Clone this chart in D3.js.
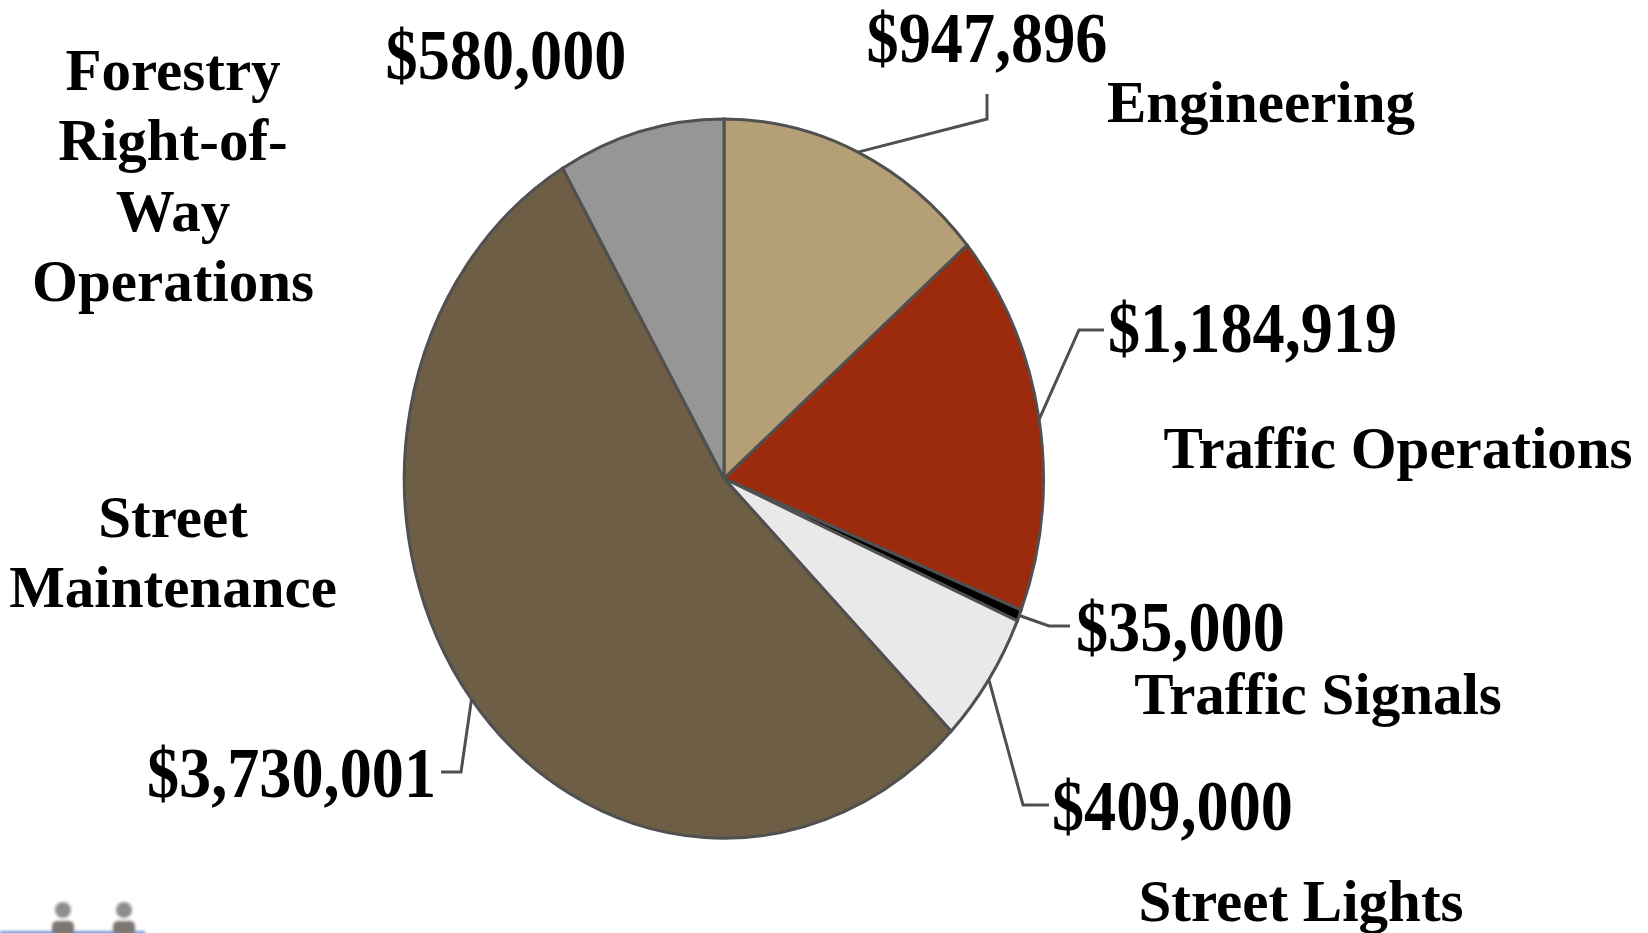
<!DOCTYPE html>
<html>
<head>
<meta charset="utf-8">
<script src="https://cdnjs.cloudflare.com/ajax/libs/d3/7.8.5/d3.min.js"></script>
<style>
    html, body { margin: 0; padding: 0; background: #fff; overflow: hidden; }
    text { font-family: "Liberation Serif", serif; font-weight: bold; fill: #000; }
</style>
</head>
<body>
<div id="chart"></div>
<script>
const categories = ['Engineering', 'Traffic Operations', 'Traffic Signals', 'Street Lights', 'Street Maintenance', 'Forestry Right-of-Way Operations'];
const values = [947896, 1184919, 35000, 409000, 3730001, 580000];
const valueLabels = ['$947,896', '$1,184,919', '$35,000', '$409,000', '$3,730,001', '$580,000'];
const colors = ['#b59f77', '#9c2a0c', '#000000', '#e9e9e9', '#6e5e45', '#969696'];

const width = 1648, height = 933;
const cx = 724, cy = 478.5, rx = 319.5, ry = 359.5;

const svg = d3.select('#chart').append('svg')
    .attr('width', width)
    .attr('height', height);

// the original pie is stretched, so draw on a unit circle and scale it
const pie = d3.pie().sort(null)(values);
const arc = d3.arc().innerRadius(0).outerRadius(1);
const edge = a => [cx + rx * Math.sin(a), cy - ry * Math.cos(a)];
const mid = d => (d.startAngle + d.endAngle) / 2;

svg.append('g')
    .attr('transform', `translate(${cx},${cy}) scale(${rx},${ry})`)
    .selectAll('path')
    .data(pie)
    .enter()
    .append('path')
    .attr('d', arc)
    .attr('fill', (d, i) => colors[i])
    .attr('stroke', '#505050')
    .attr('stroke-width', 3)
    .attr('vector-effect', 'non-scaling-stroke');

// leader lines: bend points per slice, forestry has none
const leaders = [
    [[987, 119], [987, 94]],
    [[1079, 330], [1104, 330]],
    [[1049, 626], [1070, 626]],
    [[1023, 805], [1049, 805]],
    [[461, 772], [441, 772]],
    null
];
svg.append('g').selectAll('path')
    .data(leaders.map((l, i) => l && [edge(mid(pie[i]))].concat(l)).filter(l => l))
    .enter()
    .append('path')
    .attr('d', d3.line())
    .attr('fill', 'none')
    .attr('stroke', '#505050')
    .attr('stroke-width', 3);

// value labels, condensed horizontally like the original
const valuePos = [[987, 62], [1108, 352], [1076, 651], [1052, 830], [436, 797], [506, 79]];
const valueAnchor = ['middle', 'start', 'start', 'start', 'end', 'middle'];
svg.append('g').selectAll('text')
    .data(valueLabels)
    .enter()
    .append('text')
    .attr('transform', (d, i) => `translate(${valuePos[i][0]},${valuePos[i][1]}) scale(0.8925,1)`)
    .attr('text-anchor', (d, i) => valueAnchor[i])
    .attr('font-size', 72)
    .text(d => d);

// category labels, wrapped as in the original
const nameLines = [
    ['Engineering'],
    ['Traffic Operations'],
    ['Traffic Signals'],
    ['Street Lights'],
    ['Street', 'Maintenance'],
    ['Forestry', 'Right-of-', 'Way', 'Operations']
];
const namePos = [[1261, 122], [1398, 468], [1318, 714], [1301, 921], [173, 537], [173, 90]];
const g = svg.append('g');
nameLines.forEach((lines, i) => {
    lines.forEach((t, j) => {
        g.append('text')
            .attr('x', namePos[i][0])
            .attr('y', namePos[i][1] + j * 70.3)
            .attr('text-anchor', 'middle')
            .attr('font-size', 59)
            .text(t);
    });
});

// blurry clip art in the bottom left corner
const defs = svg.append('defs');
defs.append('filter').attr('id', 'blur').append('feGaussianBlur').attr('stdDeviation', 1.8);
const heads = [63, 124];
const art = svg.append('g').attr('filter', 'url(#blur)');
art.append('rect').attr('x', 0).attr('y', 931).attr('width', 145).attr('height', 4).attr('fill', '#6f9bd8');
art.selectAll('circle').data(heads).enter().append('circle')
    .attr('cx', d => d).attr('cy', 910).attr('r', 8).attr('fill', '#8d8d8d');
art.selectAll('rect.body').data(heads).enter().append('rect')
    .attr('class', 'body')
    .attr('x', d => d - 11).attr('y', 921).attr('width', 22).attr('height', 14).attr('rx', 5).attr('fill', '#7d7672');
</script>
</body>
</html>
